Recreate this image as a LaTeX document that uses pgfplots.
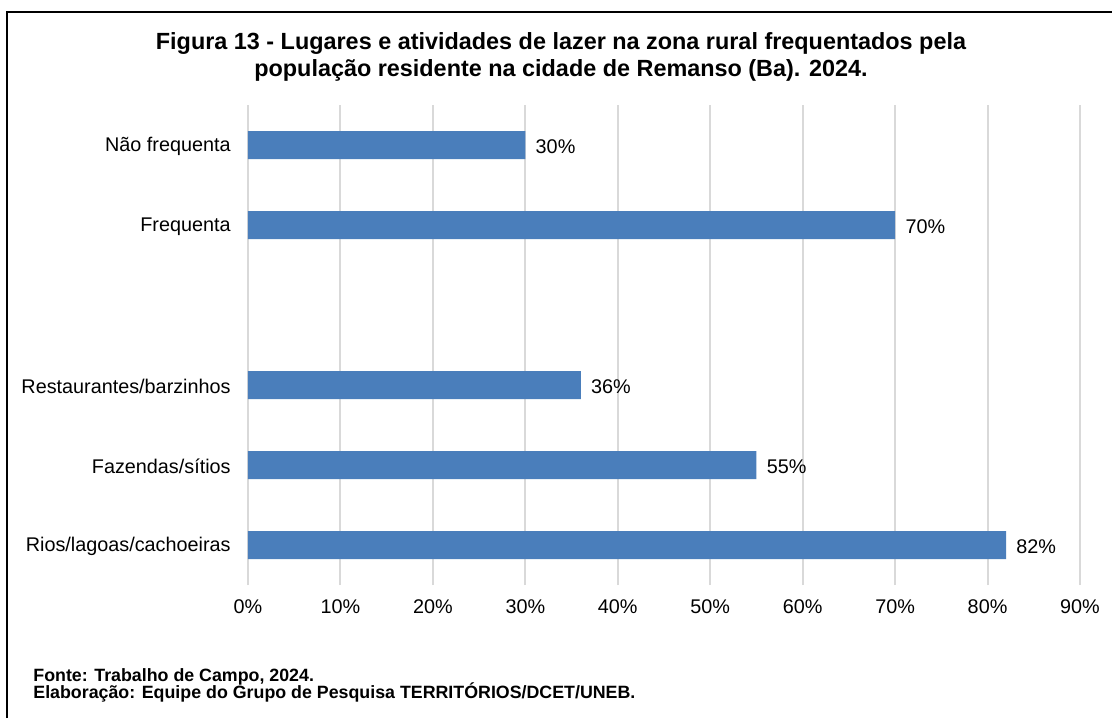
\documentclass[border=0pt]{standalone}
\usepackage{pgfplots}
\pgfplotsset{compat=1.18}
\usepackage{fontspec}
\setmainfont{Liberation Sans}
\definecolor{BarBlue}{HTML}{4A7EBB}
\definecolor{GridGray}{HTML}{D9D9D9}

\begin{document}
\begin{tikzpicture}
\begin{axis}[
  xbar,
  scale only axis,
  width=416pt, height=240pt,
  xmin=0, xmax=90, ymin=-0.5, ymax=5.5,
  xtick={0,10,...,90},
  xticklabel={\pgfmathprintnumber{\tick}\%},
  ytick={0,1,2,4,5},
  yticklabels={Rios/lagoas/cachoeiras, Fazendas/sítios, Restaurantes/barzinhos, Frequenta, Não frequenta},
  xmajorgrids,
  grid style={draw=GridGray, line width=1pt},
  axis line style={draw=none},
  major tick length=0pt,
  /pgf/number format/assume math mode=true,
  ticklabel style={font=\fontsize{9.9}{11}\selectfont, inner sep=0pt},
  yticklabel style={xshift=-8.5pt, yshift=-0.8pt},
  xticklabel style={yshift=-7pt},
  bar width=14pt,
  nodes near coords={\pgfmathprintnumber{\pgfplotspointmeta}\%},
  nodes near coords align={horizontal},
  every node near coord/.append style={font=\fontsize{9.9}{11}\selectfont, inner sep=0pt, xshift=5pt, yshift=-0.8pt, /pgf/number format/assume math mode=true},
]
\addplot[fill=BarBlue, draw=none] coordinates {(82,0) (55,1) (36,2) (70,4) (30,5)};
\end{axis}
\begin{scope}[shift={(-124pt,292.5pt)}, x=0.5pt, y=-0.5pt]
  \useasboundingbox (0,0) rectangle (1112,718);
  \draw[line width=1pt] (7,718) -- (7,12) -- (1112,12);
  \node[font=\bfseries\fontsize{11.7}{13.5}\selectfont, align=center] at (561,57)
    {Figura 13 - Lugares e atividades de lazer na zona rural frequentados pela\\população residente na cidade de Remanso (Ba). 2024.};
  \node[anchor=base west, inner sep=0pt, font=\bfseries\fontsize{8.9}{9}\selectfont] at (33,681) {Fonte: Trabalho de Campo, 2024.};
  \node[anchor=base west, inner sep=0pt, font=\bfseries\fontsize{8.9}{9}\selectfont] at (33,698) {Elaboração: Equipe do Grupo de Pesquisa TERRITÓRIOS/DCET/UNEB.};
\end{scope}
\end{tikzpicture}
\end{document}
